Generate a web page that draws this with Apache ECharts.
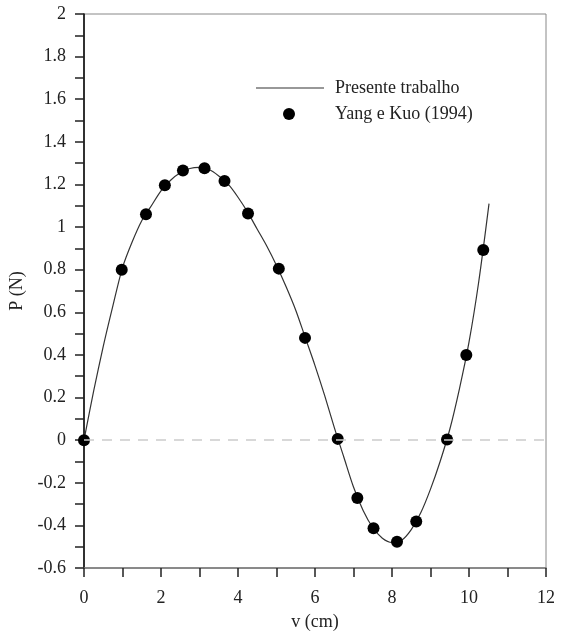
<!DOCTYPE html>
<html>
<head>
<meta charset="utf-8">
<script src="https://cdn.jsdelivr.net/npm/echarts@6/dist/echarts.min.js"></script>
<style>html,body{margin:0;padding:0;background:#fff}#c{width:563px;height:633px}</style>
</head>
<body>
<div id="c"></div>
<script>
// Presente trabalho (curve)
const curveX = [0, 0.25, 0.5, 0.75, 1.0, 1.25, 1.5, 1.75, 2.0, 2.25, 2.5, 2.75, 3.0, 3.25, 3.5, 3.75, 4.0, 4.25, 4.5, 4.75, 5.0, 5.25, 5.5, 5.75, 6.0, 6.25, 6.5, 6.75, 7.0, 7.25, 7.5, 7.75, 8.0, 8.25, 8.5, 8.75, 9.0, 9.25, 9.5, 9.75, 10.0, 10.25, 10.52];
const curveY = [0, 0.23, 0.44, 0.63, 0.81, 0.93, 1.03, 1.10, 1.17, 1.22, 1.255, 1.275, 1.28, 1.27, 1.24, 1.20, 1.14, 1.07, 0.99, 0.91, 0.82, 0.72, 0.61, 0.48, 0.35, 0.21, 0.06, -0.08, -0.22, -0.33, -0.41, -0.46, -0.48, -0.47, -0.42, -0.34, -0.23, -0.10, 0.05, 0.24, 0.46, 0.74, 1.11];
// Yang e Kuo (1994) (points)
const ptsX = [0, 0.98, 1.61, 2.1, 2.57, 3.13, 3.65, 4.26, 5.06, 5.74, 6.59, 7.1, 7.52, 8.13, 8.63, 9.43, 9.93, 10.37];
const ptsY = [0, 0.80, 1.06, 1.196, 1.266, 1.276, 1.216, 1.064, 0.805, 0.48, 0.006, -0.272, -0.413, -0.477, -0.382, 0.003, 0.40, 0.892];
const seriesNames = ['Presente trabalho', 'Yang e Kuo (1994)'];
const xLabelName = 'v (cm)';
const yLabelName = 'P (N)';

const font = 'Liberation Serif';
const chart = echarts.init(document.getElementById('c'), null, {renderer: 'canvas'});
chart.setOption({
  animation: false,
  backgroundColor: '#fff',
  grid: {left: 84, right: 17, top: 14, bottom: 65, containLabel: false, outerBoundsMode: 'none',
    show: true, borderColor: '#888', borderWidth: 1, backgroundColor: 'transparent'},
  legend: [
    {data: [{name: seriesNames[0], icon: 'rect'}], left: 256, top: 79, padding: 0, orient: 'vertical', itemWidth: 68, itemHeight: 1.2,
     textStyle: {fontFamily: font, fontSize: 18, color: '#222', padding: [0, 0, 0, 6]}},
    {data: [{name: seriesNames[1], icon: 'circle'}], left: 283, top: 105, padding: 0, orient: 'vertical', itemWidth: 12, itemHeight: 12,
     textStyle: {fontFamily: font, fontSize: 18, color: '#222', padding: [0, 0, 0, 35]}}
  ],
  xAxis: {
    type: 'value', min: 0, max: 12, interval: 2,
    name: xLabelName, nameLocation: 'middle', nameGap: 45,
    nameTextStyle: {fontFamily: font, fontSize: 18, color: '#222'},
    axisLine: {show: true, onZero: false, lineStyle: {color: '#777', width: 1.5}},
    axisTick: {show: true, inside: false, length: 9, lineStyle: {color: '#222', width: 1.5}},
    minorTick: {show: true, splitNumber: 2, length: 9, lineStyle: {color: '#222', width: 1.5}},
    axisLabel: {fontFamily: font, fontSize: 18, color: '#222', margin: 21},
    splitLine: {show: false}
  },
  yAxis: {
    type: 'value', min: -0.6, max: 2, interval: 0.2,
    name: yLabelName, nameLocation: 'middle', nameGap: 57, nameRotate: 90,
    nameTextStyle: {fontFamily: font, fontSize: 18, color: '#222'},
    axisLine: {show: true, onZero: false, lineStyle: {color: '#000', width: 1.5}},
    axisTick: {show: true, inside: false, length: 9, lineStyle: {color: '#222', width: 1.5}},
    minorTick: {show: true, splitNumber: 2, length: 9, lineStyle: {color: '#222', width: 1.5}},
    axisLabel: {fontFamily: font, fontSize: 18, color: '#222', margin: 18,
      formatter: v => String(Math.round(v * 10) / 10)},
    splitLine: {show: false}
  },
  series: [
    {
      name: seriesNames[0], type: 'line', smooth: 0.3, symbol: 'none',
      color: '#333',
      lineStyle: {color: '#333', width: 1.2},
      data: curveX.map((x, i) => [x, curveY[i]]),
      z: 3,
      markLine: {
        silent: true, symbol: 'none', label: {show: false},
        lineStyle: {color: '#ccc', type: [10, 8], width: 1.5},
        data: [{yAxis: 0}]
      }
    },
    {
      name: seriesNames[1], type: 'scatter', symbol: 'circle', symbolSize: 12,
      color: '#000', itemStyle: {color: '#000', opacity: 1},
      data: ptsX.map((x, i) => [x, ptsY[i]]),
      z: 4
    }
  ]
});
</script>
</body>
</html>
